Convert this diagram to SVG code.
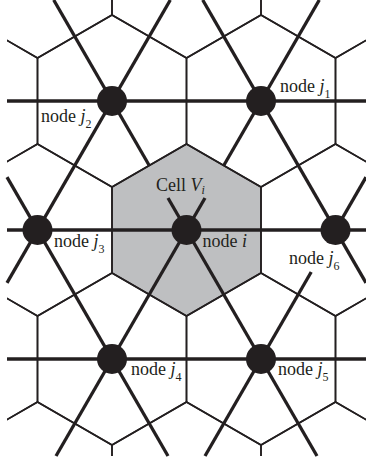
<svg xmlns="http://www.w3.org/2000/svg" width="366" height="462" viewBox="0 0 366 462">
<style>
.thin{fill:none;stroke:#231f20;stroke-width:1.6}
.thick{fill:none;stroke:#231f20;stroke-width:3.3}
.dot{fill:#231f20}
text{font-family:"Liberation Serif","Times New Roman",serif;font-size:18px;fill:#231f20}
.it{font-style:italic}
.sub{font-size:12px}
</style>
<defs>
<path id="hx" d="M0,-86 L74.5,-43 L74.5,43 L0,86 L-74.5,43 L-74.5,-43 Z"/>
<clipPath id="clip"><rect x="7" y="0" width="359" height="456"/></clipPath>
</defs>
<rect width="366" height="462" fill="#ffffff"/>
<g id="cell-Vi">
<use href="#hx" x="186.5" y="230" fill="#bebfc1" stroke="none"/>
</g>
<g id="voronoi" class="thin" clip-path="url(#clip)">
<use href="#hx" x="37.5" y="-28"/>
<use href="#hx" x="186.5" y="-28"/>
<use href="#hx" x="335.5" y="-28"/>
<use href="#hx" x="-37" y="101"/>
<use href="#hx" x="112" y="101"/>
<use href="#hx" x="261" y="101"/>
<use href="#hx" x="410" y="101"/>
<use href="#hx" x="37.5" y="230"/>
<use href="#hx" x="186.5" y="230"/>
<use href="#hx" x="335.5" y="230"/>
<use href="#hx" x="-37" y="359"/>
<use href="#hx" x="112" y="359"/>
<use href="#hx" x="261" y="359"/>
<use href="#hx" x="410" y="359"/>
<use href="#hx" x="37.5" y="488"/>
<use href="#hx" x="186.5" y="488"/>
<use href="#hx" x="335.5" y="488"/>
</g>
<g id="connectors" class="thick">
<line x1="7" y1="101" x2="366" y2="101"/>
<line x1="7" y1="230" x2="366" y2="230"/>
<line x1="7" y1="359" x2="366" y2="359"/>
<line x1="53.7" y1="0" x2="149.25" y2="165.5"/>
<line x1="168" y1="198" x2="317" y2="456"/>
<line x1="319.3" y1="0" x2="223.75" y2="165.5"/>
<line x1="205" y1="198" x2="56" y2="456"/>
<line x1="170.3" y1="0" x2="7" y2="282.8"/>
<line x1="202.7" y1="0" x2="366" y2="282.8"/>
<line x1="7" y1="177.2" x2="168" y2="456"/>
<line x1="366" y1="177.2" x2="328" y2="243"/>
<line x1="311.2" y1="272" x2="205" y2="456"/>
</g>
<g id="node-i">
<circle class="dot" cx="186.5" cy="230" r="15"/>
<text x="202.5" y="247">node <tspan class="it">i</tspan></text>
</g>
<g id="cell-label">
<text x="156" y="190.5">Cell <tspan class="it">V</tspan><tspan class="it sub" dy="3">i</tspan></text>
</g>
<g id="node-j1">
<circle class="dot" cx="261" cy="101" r="15"/>
<text x="280" y="92">node <tspan class="it">j</tspan><tspan class="sub" dy="6">1</tspan></text>
</g>
<g id="node-j2">
<circle class="dot" cx="112" cy="101" r="15"/>
<text x="41" y="121.5">node <tspan class="it">j</tspan><tspan class="sub" dy="6">2</tspan></text>
</g>
<g id="node-j3">
<circle class="dot" cx="37.5" cy="230" r="15"/>
<text x="54" y="246.5">node <tspan class="it">j</tspan><tspan class="sub" dy="6">3</tspan></text>
</g>
<g id="node-j4">
<circle class="dot" cx="112" cy="359" r="15"/>
<text x="131" y="375">node <tspan class="it">j</tspan><tspan class="sub" dy="6">4</tspan></text>
</g>
<g id="node-j5">
<circle class="dot" cx="261" cy="359" r="15"/>
<text x="278" y="375">node <tspan class="it">j</tspan><tspan class="sub" dy="6">5</tspan></text>
</g>
<g id="node-j6">
<circle class="dot" cx="335.5" cy="230" r="15"/>
<text x="289" y="264">node <tspan class="it">j</tspan><tspan class="sub" dy="6">6</tspan></text>
</g>
</svg>
